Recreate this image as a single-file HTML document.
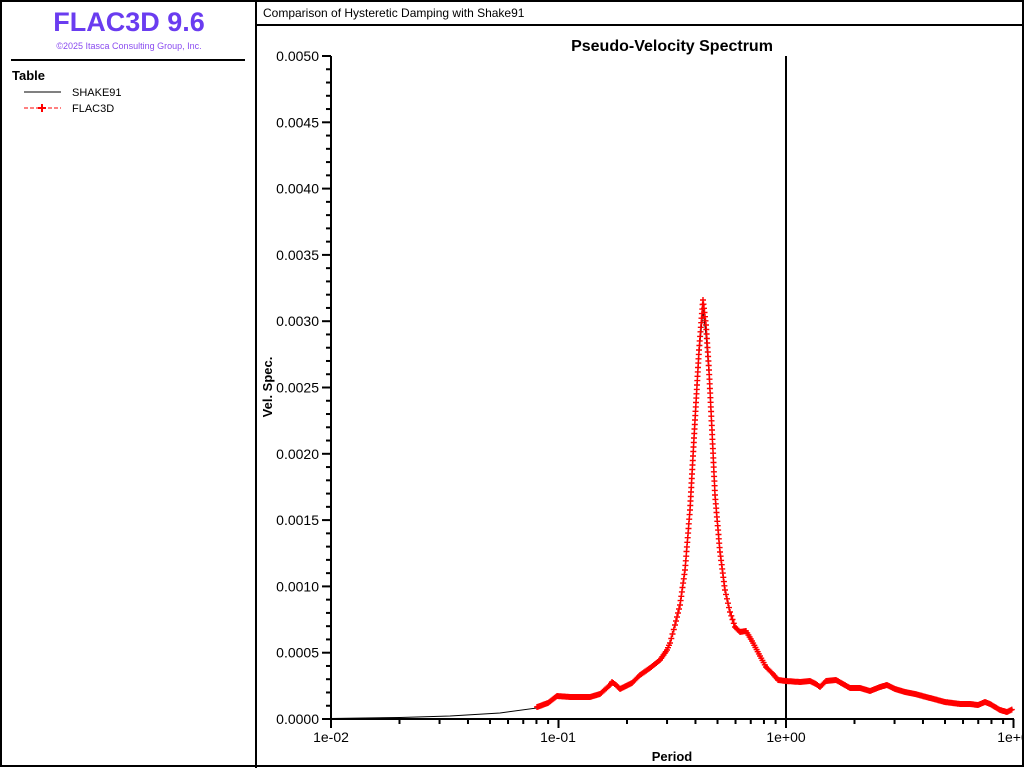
<!DOCTYPE html>
<html><head><meta charset="utf-8"><style>
body{margin:0;width:1024px;height:768px;background:#fff;overflow:hidden;font-family:"Liberation Sans",sans-serif}
</style></head><body>
<svg width="1024" height="768" xmlns="http://www.w3.org/2000/svg" font-family="Liberation Sans, sans-serif">
<rect x="0" y="0" width="1024" height="768" fill="#fff"/>
<rect x="1" y="1" width="1022" height="765" fill="none" stroke="#000" stroke-width="2"/>
<line x1="256" y1="0" x2="256" y2="768" stroke="#000" stroke-width="2"/>
<line x1="256" y1="25" x2="1024" y2="25" stroke="#000" stroke-width="2"/>
<text x="129" y="31" text-anchor="middle" font-size="27" font-weight="bold" fill="#6a3cf0">FLAC3D 9.6</text>
<text x="129" y="49" text-anchor="middle" font-size="9" fill="#8a4cf0">©2025 Itasca Consulting Group, Inc.</text>
<line x1="11" y1="60" x2="245" y2="60" stroke="#000" stroke-width="2"/>
<text x="12" y="80" font-size="13" font-weight="bold">Table</text>
<line x1="24" y1="92" x2="61" y2="92" stroke="#000"/>
<text x="72" y="96" font-size="11">SHAKE91</text>
<line x1="24" y1="108" x2="61" y2="108" stroke="#f00" stroke-dasharray="4,2"/>
<path d="M38,108h8M42,104v8" stroke="#f00" stroke-width="2"/>
<text x="72" y="112" font-size="11">FLAC3D</text>
<text x="263" y="17" font-size="12">Comparison of Hysteretic Damping with Shake91</text>
<text x="672" y="51" text-anchor="middle" font-size="16" font-weight="bold">Pseudo-Velocity Spectrum</text>
<text transform="translate(272,387) rotate(-90)" text-anchor="middle" font-size="13" font-weight="bold">Vel. Spec.</text>
<text x="672" y="761" text-anchor="middle" font-size="13" font-weight="bold">Period</text>
<g id="ax" stroke="#000"></g>
<g id="lab" font-size="14"></g>
<line x1="331" y1="56" x2="331" y2="719" stroke="#000" stroke-width="2"/>
<line x1="331" y1="719" x2="1014" y2="719" stroke="#000" stroke-width="2"/>
<line x1="786" y1="56" x2="786" y2="719" stroke="#000" stroke-width="2"/>
<polyline id="blk" fill="none" stroke="#000" stroke-width="1"/>
<path id="red" fill="none" stroke="#f00" stroke-width="1.4"/>
</svg>
<script>
var ns="http://www.w3.org/2000/svg",ax=document.getElementById("ax"),lab=document.getElementById("lab");
function L(x1,y1,x2,y2){var l=document.createElementNS(ns,"line");l.setAttribute("x1",x1);l.setAttribute("y1",y1);l.setAttribute("x2",x2);l.setAttribute("y2",y2);l.setAttribute("stroke-width",2);ax.appendChild(l);}
function T(x,y,s,a){var t=document.createElementNS(ns,"text");t.setAttribute("x",x);t.setAttribute("y",y);t.setAttribute("text-anchor",a);t.textContent=s;lab.appendChild(t);}
var y0=719,yt=56;
for(var i=0;i<=50;i++){var y=y0-(y0-yt)*i/50;L(i%5==0?322:326,y,331,y);if(i%5==0)T(319,y+5,(i/10000*1).toFixed(4),"end");}
var x0=331,dec=227.5;
for(var d=0;d<3;d++)for(var k=1;k<10;k++){var x=x0+dec*(d+Math.log10(k));L(x,719,x,k==1?728:724);}
L(x0+3*dec,719,x0+3*dec,728);
T(331,742,"1e-02","middle");T(558,742,"1e-01","middle");T(786,742,"1e+00","middle");T(1013,742,"1e+0","middle");
var P=[[537,707],[548,703],[557,696],[570,697],[590,697],[600,694],[610,685],[612,682],[616,685],[620,689],[632,683],[640,675],[650,668],[660,660],[667,650],[670,643],[675,625],[680,605],[685,570],[690,510],[695,420],[699,350],[703,300],[706,325],[709,370],[712,430],[715,495],[720,552],[725,590],[730,612],[735,627],[740,632],[746,631],[752,641],[760,656],[766,667],[773,674],[778,680],[786,681],[800,682],[810,681],[816,684],[820,687],[826,681],[836,680],[843,684],[850,688],[860,688],[870,691],[880,687],[887,685],[895,689],[905,692],[915,694],[930,698],[945,702],[960,704],[970,704],[978,705],[985,702],[990,704],[1000,710],[1007,712],[1013,709]];
var B=[[331,718.5],[400,717.5],[450,716],[500,713],[537,708]].concat(P.map(function(p){return [p[0],p[1]+(p[1]<330?10:p[1]<400?4:0)]}));
document.getElementById("blk").setAttribute("points",B.map(function(p){return p.join(",")}).join(" "));
var d="";
for(var i=0;i<P.length-1;i++){var a=P[i],b=P[i+1],dx=b[0]-a[0],len=Math.hypot(dx,b[1]-a[1]),n=Math.max(1,Math.round(dx/1.2),Math.round(len/4.5));
for(var j=0;j<n;j++){var x=a[0]+dx*j/n,y=a[1]+(b[1]-a[1])*j/n;d+="M"+(x-3).toFixed(1)+","+y.toFixed(1)+"h6M"+x.toFixed(1)+","+(y-3).toFixed(1)+"v6";}}
document.getElementById("red").setAttribute("d",d);
</script>
</body></html>
